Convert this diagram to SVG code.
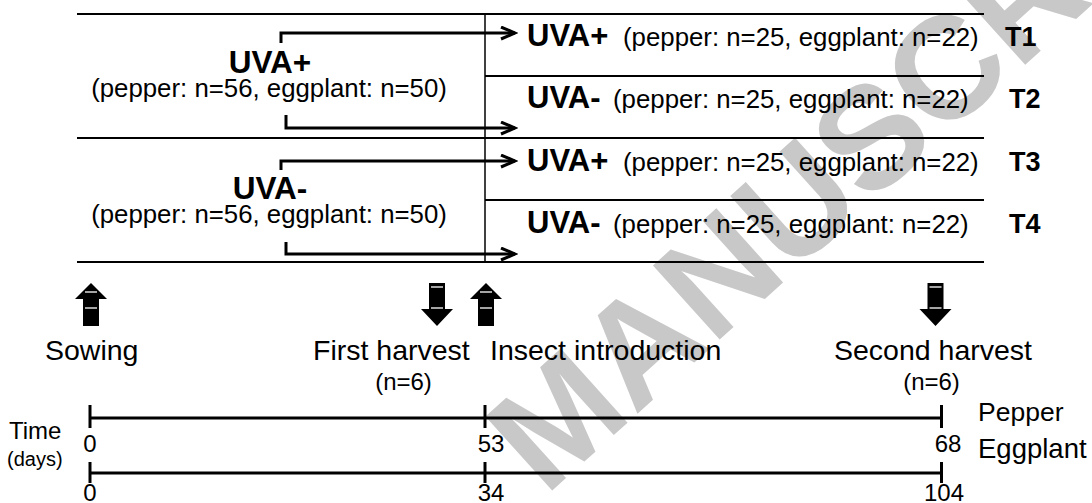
<svg xmlns="http://www.w3.org/2000/svg" width="1092" height="503" viewBox="0 0 1092 503">
<style>
text{font-family:"Liberation Sans",Arial,sans-serif;fill:#000}
.big{font-size:31.5px;font-weight:bold}
.rbig{font-size:31px;font-weight:bold}
.sub{font-size:25.8px}
.tl{font-size:27px;font-weight:bold}
.lab{font-size:28.5px}
.num{font-size:24px}
.frame{stroke:#000;stroke-width:2;fill:none}
.thin{stroke:#000;stroke-width:1.5;fill:none}
.conn{stroke:#000;stroke-width:3;fill:none}
.axis{stroke:#000;stroke-width:3;fill:none}
.blk{fill:#000}
.wl{stroke:#fff;stroke-width:1.3}
.wm{font-family:"Liberation Sans",Arial,sans-serif;font-weight:bold;font-size:145px;fill:#c8c8c8}
</style>
<defs>
<marker id="chev" markerUnits="userSpaceOnUse" markerWidth="18" markerHeight="16" refX="15" refY="7" orient="auto">
<path d="M1,1 L15,7 L1,13" fill="none" stroke="#000" stroke-width="3"/>
</marker>
</defs>
<rect width="1092" height="503" fill="#fff"/>
<g id="watermark">
<text class="wm" transform="translate(545,497) rotate(-42)">MANUSCRIPT</text>
</g>
<g id="frame">
<line class="frame" x1="77" y1="14" x2="984" y2="14"/>
<line class="frame" x1="485" y1="76" x2="984" y2="76"/>
<line class="frame" x1="77" y1="138" x2="984" y2="138"/>
<line class="frame" x1="485" y1="200" x2="984" y2="200"/>
<line class="frame" x1="77" y1="262" x2="984" y2="262"/>
<line class="thin" x1="485" y1="14" x2="485" y2="262"/>
</g>
<g id="group-uva-plus">
<text class="big" x="270" y="73" text-anchor="middle">UVA+</text>
<text class="sub" x="269" y="97" text-anchor="middle">(pepper: n=56, eggplant: n=50)</text>
</g>
<g id="group-uva-minus">
<text class="big" x="270" y="199" text-anchor="middle">UVA-</text>
<text class="sub" x="269" y="223" text-anchor="middle">(pepper: n=56, eggplant: n=50)</text>
</g>
<g id="T1">
<text class="rbig" x="527" y="46">UVA+</text>
<text class="sub" x="623" y="46">(pepper: n=25, eggplant: n=22)</text>
<text class="tl" x="1005" y="46">T1</text>
</g>
<g id="T2">
<text class="rbig" x="527" y="108">UVA-</text>
<text class="sub" x="613" y="108">(pepper: n=25, eggplant: n=22)</text>
<text class="tl" x="1009" y="108">T2</text>
</g>
<g id="T3">
<text class="rbig" x="527" y="171">UVA+</text>
<text class="sub" x="623" y="171">(pepper: n=25, eggplant: n=22)</text>
<text class="tl" x="1009" y="171">T3</text>
</g>
<g id="T4">
<text class="rbig" x="527" y="233">UVA-</text>
<text class="sub" x="613" y="233">(pepper: n=25, eggplant: n=22)</text>
<text class="tl" x="1009" y="233">T4</text>
</g>
<g id="connectors">
<path class="conn" d="M281,43 V33 H515" marker-end="url(#chev)"/>
<path class="conn" d="M286,115 V128 H515" marker-end="url(#chev)"/>
<path class="conn" d="M281,170 V161 H515" marker-end="url(#chev)"/>
<path class="conn" d="M286,242 V254 H515" marker-end="url(#chev)"/>
</g>
<g id="sowing">
<polygon class="blk" points="91,283 75,299 83,299 83,326 99,326 99,299 107,299"/>
<line class="wl" x1="85" y1="292" x2="97" y2="292"/>
<line class="wl" x1="85" y1="308" x2="97" y2="308"/>
<text class="lab" x="45" y="360">Sowing</text>
</g>
<g id="first-harvest">
<polygon class="blk" points="429,283 445,283 445,309 453,309 437,326 421,309 429,309"/>
<line class="wl" x1="431" y1="287" x2="443" y2="287"/>
<line class="wl" x1="431" y1="308" x2="443" y2="308"/>
<text class="lab" x="313" y="360">First harvest</text>
<text class="num" x="403.5" y="390" text-anchor="middle">(n=6)</text>
</g>
<g id="insect-introduction">
<polygon class="blk" points="486,283 470,299 478,299 478,326 494,326 494,299 502,299"/>
<line class="wl" x1="480" y1="292" x2="492" y2="292"/>
<line class="wl" x1="480" y1="308" x2="492" y2="308"/>
<text class="lab" x="490" y="360">Insect introduction</text>
</g>
<g id="second-harvest">
<polygon class="blk" points="927.5,283 943.5,283 943.5,309 951.5,309 935.5,326 919.5,309 927.5,309"/>
<line class="wl" x1="929.5" y1="287" x2="941.5" y2="287"/>
<line class="wl" x1="929.5" y1="308" x2="941.5" y2="308"/>
<text class="lab" x="834" y="360">Second harvest</text>
<text class="num" x="931.5" y="390" text-anchor="middle">(n=6)</text>
</g>
<g id="timeline-pepper">
<line class="axis" x1="90" y1="418" x2="941.5" y2="418"/>
<line class="axis" x1="90" y1="405" x2="90" y2="428"/>
<line class="axis" x1="485" y1="405" x2="485" y2="428"/>
<line class="axis" x1="941.5" y1="405" x2="941.5" y2="428"/>
<text class="num" x="90" y="452" text-anchor="middle">0</text>
<text class="num" x="491" y="452" text-anchor="middle">53</text>
<text class="num" x="948" y="452" text-anchor="middle">68</text>
<text style="font-size:26.5px" x="978" y="421">Pepper</text>
</g>
<g id="timeline-eggplant">
<line class="axis" x1="90" y1="473" x2="941.5" y2="473"/>
<line class="axis" x1="90" y1="462" x2="90" y2="483"/>
<line class="axis" x1="485" y1="462" x2="485" y2="483"/>
<line class="axis" x1="941.5" y1="462" x2="941.5" y2="483"/>
<text class="num" x="90" y="501" text-anchor="middle">0</text>
<text class="num" x="491" y="501" text-anchor="middle">34</text>
<text class="num" x="944" y="501" text-anchor="middle">104</text>
<text style="font-size:27.5px" x="978" y="458">Eggplant</text>
</g>
<g id="time-label">
<text style="font-size:24px" x="9" y="439">Time</text>
<text style="font-size:20px" x="7" y="466">(days)</text>
</g>
</svg>
